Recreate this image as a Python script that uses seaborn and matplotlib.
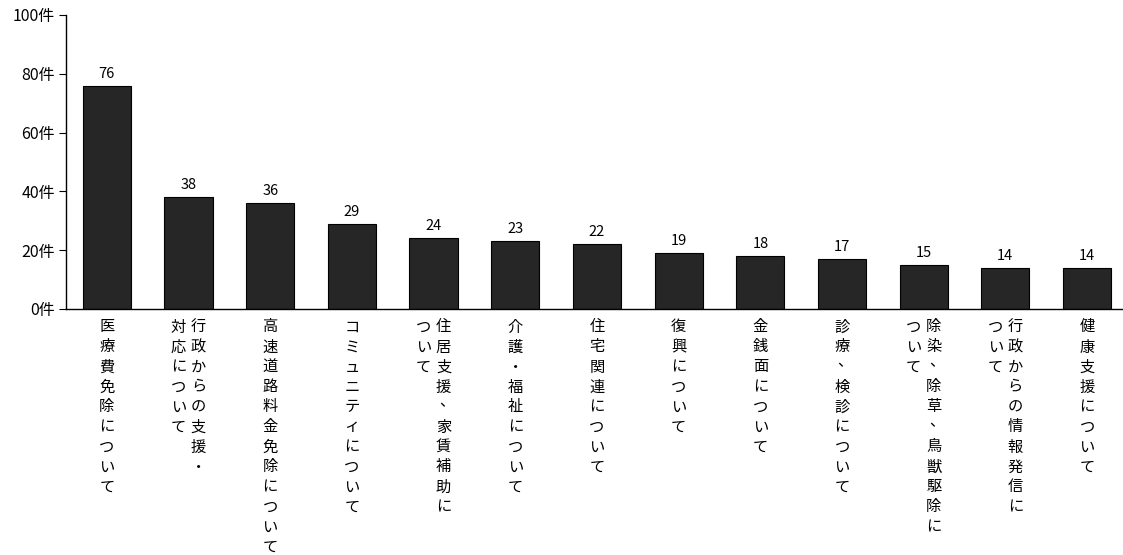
import matplotlib
matplotlib.use("Agg")
import matplotlib.pyplot as plt
import seaborn as sns
import pandas as pd

# ---- data ----
categories = [
    "医療費免除について",
    "行政からの支援・\n対応について",
    "高速道路料金免除について",
    "コミュニティについて",
    "住居支援、家賃補助に\nついて",
    "介護・福祉について",
    "住宅関連について",
    "復興について",
    "金銭面について",
    "診療、検診について",
    "除染、除草、鳥獣駆除に\nついて",
    "行政からの情報発信に\nついて",
    "健康支援について",
]
counts = [76, 38, 36, 29, 24, 23, 22, 19, 18, 17, 15, 14, 14]
ytick_values = [0, 20, 40, 60, 80, 100]
ytick_labels = ["0件", "20件", "40件", "60件", "80件", "100件"]

sns.set_style("ticks")
plt.rcParams["font.family"] = ["Noto Sans CJK JP", "DejaVu Sans"]

df = pd.DataFrame({"cat": categories, "n": counts})

fig = plt.figure(figsize=(11.23, 5.55), dpi=100)
ax = fig.add_axes([66 / 1123, (555 - 309) / 555, (1123 - 66) / 1123, 294 / 555])

sns.barplot(data=df, x="cat", y="n", color="#262626", saturation=1,
            edgecolor="black", linewidth=0.8, width=0.59, ax=ax)

ax.set_xlim(-0.5, 12.44)
ax.set_ylim(0, 100)
ax.set_yticks(ytick_values)
ax.set_yticklabels(ytick_labels, fontsize=11.5)
ax.set_xlabel("")
ax.set_ylabel("")
ax.tick_params(axis="y", direction="out", length=5, width=0.8, pad=3, colors="black")
ax.tick_params(axis="x", length=0, labelbottom=False)
for s in ["top", "right"]:
    ax.spines[s].set_visible(False)
for s in ["left", "bottom"]:
    ax.spines[s].set_color("black")
    ax.spines[s].set_linewidth(1.0)

# value labels
for i, v in enumerate(counts):
    ax.annotate(str(v), xy=(i, v), xytext=(0, 8), textcoords="offset pixels",
                ha="center", va="baseline", fontsize=10.5, color="black")

# vertical (tategaki) category labels; columns run right-to-left
trans = ax.get_xaxis_transform()
for i, lab in enumerate(categories):
    cols = lab.split("\n")
    n = len(cols)
    for j, col in enumerate(cols):
        dx = 0 if n == 1 else (10 if j == 0 else -10)
        for k, ch in enumerate(col):
            sx, sy = (3, 5) if ch == "、" else (0, 0)
            ax.annotate(ch, xy=(i, 0), xycoords=trans,
                        xytext=(dx + sx, -18 - 20 * k + sy),
                        textcoords="offset pixels", ha="center", va="center",
                        fontsize=11, color="black", annotation_clip=False)

fig.savefig("out.png", dpi=100)
